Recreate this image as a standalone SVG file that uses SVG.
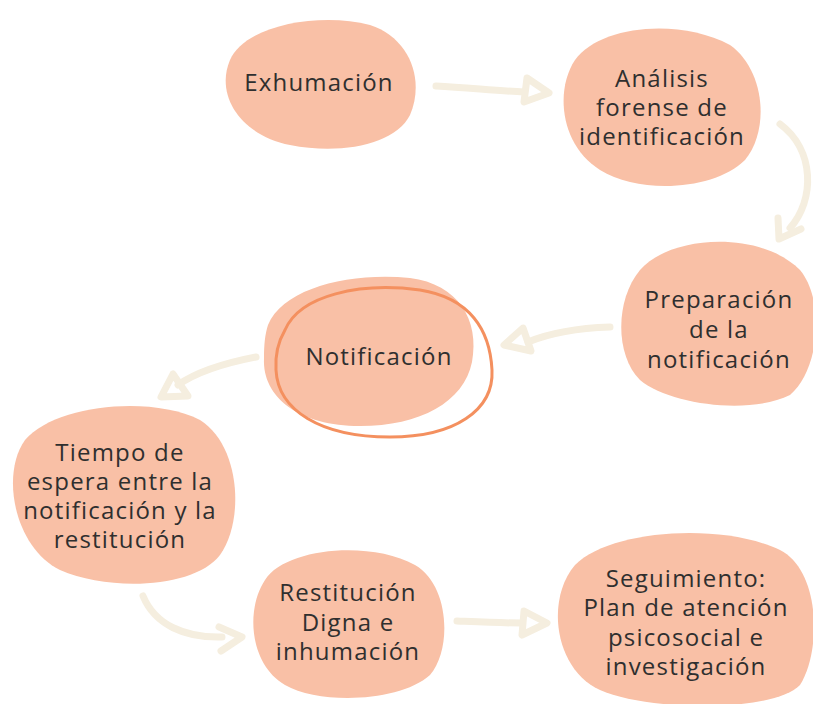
<svg xmlns="http://www.w3.org/2000/svg" width="813" height="704" viewBox="0 0 813 704">
<style>
.blob{fill:#F9C0A6}
.lbl{font-family:"Open Sans","Noto Sans",sans-serif;font-size:24px;letter-spacing:1.2px;fill:#2f2f2f;text-anchor:middle}
.arr{fill:none;stroke:#F5EEDF;stroke-width:7;stroke-linecap:round;stroke-linejoin:round}
</style>
<rect width="813" height="704" fill="#ffffff"/>
<g id="connectors">
<path class="arr" d="M436,86 C470,88 500,91 524,92"/>
<path class="arr" d="M527,78 L549,93 L524,102 Z"/>
<path class="arr" d="M780,124 C815,150 815,200 790,228"/>
<path class="arr" d="M778,218 L779,239 L801,229"/>
<path class="arr" d="M610,327 C580,328 550,333 528,342"/>
<path class="arr" d="M523,328 L504,345 L531,351 Z"/>
<path class="arr" d="M256,357 C225,363 195,373 178,385"/>
<path class="arr" d="M173,374 L161,397 L188,396 Z"/>
<path class="arr" d="M143,596 C155,625 185,638 222,637"/>
<path class="arr" d="M219,627 L242,637 L221,651"/>
<path class="arr" d="M457,621 C480,622 500,623 522,623"/>
<path class="arr" d="M524,611 L547,623 L522,635 Z"/>
</g>
<g id="n1"><path class="blob" d="M230,60 C245,25 320,12 370,25 C410,38 425,80 410,115 C395,145 340,155 290,145 C240,135 215,95 230,60 Z"/>
<text class="lbl" x="319" y="91">Exhumación</text></g>
<g id="n2"><path class="blob" d="M575,60 C600,25 680,18 730,45 C765,70 770,130 745,160 C715,190 640,195 600,170 C560,145 555,90 575,60 Z"/>
<text class="lbl" x="662" y="87">Análisis</text><text class="lbl" x="662" y="116">forense de</text><text class="lbl" x="662" y="145">identificación</text></g>
<g id="n3"><path class="blob" d="M640,270 C670,235 760,230 800,270 C825,300 820,370 790,395 C750,415 670,405 640,380 C615,355 615,300 640,270 Z"/>
<text class="lbl" x="719" y="308">Preparación</text><text class="lbl" x="719" y="338">de la</text><text class="lbl" x="719" y="368">notificación</text></g>
<g id="n4"><path class="blob" d="M268,325 C283,288 350,272 410,278 C458,284 480,320 472,362 C464,402 420,426 360,426 C300,426 262,398 264,358 C264,345 265,334 268,325 Z"/>
<path d="M285,330 C300,295 360,282 420,290 C470,298 490,330 492,370 C494,410 455,437 390,437 C320,437 278,410 276,370 C275,355 278,342 285,330 Z" fill="none" stroke="#F4905F" stroke-width="3"/>
<text class="lbl" x="379" y="365">Notificación</text></g>
<g id="n5"><path class="blob" d="M25,440 C55,405 150,395 200,420 C240,445 245,520 220,555 C195,588 110,592 60,570 C15,548 0,475 25,440 Z"/>
<text class="lbl" x="120" y="461">Tiempo de</text><text class="lbl" x="120" y="490">espera entre la</text><text class="lbl" x="120" y="519">notificación y la</text><text class="lbl" x="120" y="548">restitución</text></g>
<g id="n6"><path class="blob" d="M265,580 C285,548 370,540 415,565 C450,585 452,650 430,675 C400,702 320,705 285,685 C250,665 245,610 265,580 Z"/>
<text class="lbl" x="348" y="601">Restitución</text><text class="lbl" x="348" y="631">Digna e</text><text class="lbl" x="348" y="660">inhumación</text></g>
<g id="n7"><path class="blob" d="M575,565 C610,530 720,522 780,550 C820,570 822,650 800,685 C775,712 650,712 600,690 C555,670 545,600 575,565 Z"/>
<text class="lbl" x="686" y="587">Seguimiento:</text><text class="lbl" x="686" y="616">Plan de atención</text><text class="lbl" x="686" y="646">psicosocial e</text><text class="lbl" x="686" y="675">investigación</text></g>
</svg>
